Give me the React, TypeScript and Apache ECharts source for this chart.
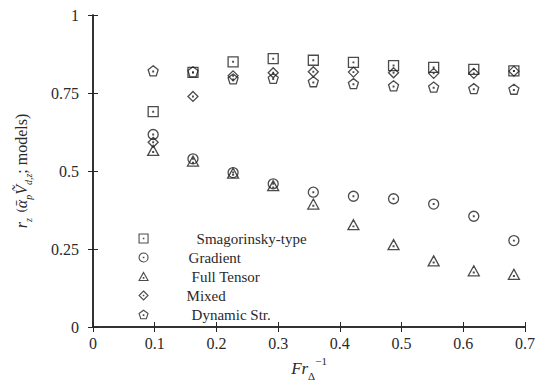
import React, { useEffect, useRef } from "react";
import * as echarts from "echarts";

const xVals = [0.0975, 0.162, 0.227, 0.292, 0.357, 0.422, 0.487, 0.552, 0.617, 0.682];
const smagorinsky = [0.69, 0.816, 0.85, 0.86, 0.855, 0.848, 0.838, 0.832, 0.826, 0.821];
const gradient = [0.617, 0.539, 0.495, 0.459, 0.432, 0.419, 0.411, 0.394, 0.355, 0.277];
const fullTensor = [0.566, 0.532, 0.493, 0.453, 0.394, 0.328, 0.264, 0.212, 0.18, 0.169];
const mixed = [0.592, 0.739, 0.805, 0.815, 0.818, 0.817, 0.815, 0.813, 0.813, 0.82];
const dynamicStr = [0.821, 0.818, 0.795, 0.797, 0.786, 0.78, 0.773, 0.769, 0.764, 0.762];
const seriesNames = ["Smagorinsky-type", "Gradient", "Full Tensor", "Mixed", "Dynamic Str."];
const legendOffsets = [43.5, 35.5, 38.5, 33.5, 38.5];

const DOT = "M4.7,4.7h0.6v0.6h-0.6Z";
const symbols = [
  "path://M0,0H10V10H0Z " + DOT,
  "path://M10,5A5,5 0 1,1 0,5A5,5 0 1,1 10,5Z " + DOT,
  "path://M5,0L10,9L0,9Z M4.7,5.7h0.6v0.6h-0.6Z",
  "path://M5,0L10,5L5,10L0,5Z " + DOT,
  "path://M5,0L9.755,3.455L7.939,9.045L2.061,9.045L0.245,3.455Z M4.7,4.8h0.6v0.6h-0.6Z",
];
const symbolSizes: number[][] = [[10, 10], [10, 10], [11, 10], [10, 10], [10, 10]];

const FONT = "'Liberation Serif', 'DejaVu Serif', serif";
const TXT = "#2a2a2a";

export default function App() {
  const ref = useRef<HTMLDivElement>(null);
  useEffect(() => {
    if (!ref.current) return;
    const chart = echarts.init(ref.current, undefined, { renderer: "svg" });
    const data = [smagorinsky, gradient, fullTensor, mixed, dynamicStr];
    const axisLine = { show: true, lineStyle: { color: "#262626", width: 1.5 } };
    const rich: any = {};
    legendOffsets.forEach((o, i) => {
      rich["a" + i] = { padding: [0, 0, 0, o], fontFamily: FONT, fontSize: 15, lineHeight: 13, color: TXT };
    });
    chart.setOption({
      animation: false,
      backgroundColor: "#ffffff",
      textStyle: { fontFamily: FONT },
      grid: { left: 93, right: 27, top: 15, bottom: 65, containLabel: false },
      legend: {
        orient: "vertical",
        left: 138.5,
        top: 231,
        padding: 0,
        itemWidth: 9,
        itemHeight: 9,
        itemGap: 4,
        data: seriesNames.map((name, i) => ({ name, icon: symbols[i] })),
        itemStyle: { color: "rgba(255,255,255,0)", borderColor: "#1e1e1e", borderWidth: 1.1 },
        formatter: (name: string) => {
          const i = seriesNames.indexOf(name);
          return "{a" + i + "|" + name + "}";
        },
        textStyle: { fontFamily: FONT, fontSize: 15, color: TXT, lineHeight: 13, rich },
      },
      xAxis: [
        {
          type: "value",
          min: 0,
          max: 0.7,
          interval: 0.1,
          position: "bottom",
          axisLine,
          splitLine: { show: false },
          axisTick: { show: true, inside: true, length: 5, lineStyle: { color: "#262626" } },
          axisLabel: { fontFamily: FONT, fontSize: 16, color: TXT, margin: 8 },
          name: "{i|Fr}{sub|Δ}{sup|−1}",
          nameLocation: "middle",
          nameGap: 28,
          nameTextStyle: {
            fontFamily: FONT,
            color: TXT,
            rich: {
              i: { fontFamily: FONT, fontStyle: "italic", fontSize: 17, lineHeight: 26, color: TXT },
              sub: { fontFamily: FONT, fontSize: 11, lineHeight: 12, verticalAlign: "bottom", color: TXT },
              sup: { fontFamily: FONT, fontSize: 11, lineHeight: 12, verticalAlign: "top", color: TXT },
            },
          },
        },
        {
          type: "value",
          min: 0,
          max: 0.7,
          interval: 0.1,
          position: "top",
          axisLine,
          splitLine: { show: false },
          axisTick: { show: true, inside: true, length: 5, lineStyle: { color: "#262626" } },
          axisLabel: { show: false },
        },
      ],
      yAxis: [
        {
          type: "value",
          min: 0,
          max: 1,
          interval: 0.25,
          position: "left",
          axisLine,
          splitLine: { show: false },
          axisTick: { show: true, inside: true, length: 5, lineStyle: { color: "#262626" } },
          axisLabel: { fontFamily: FONT, fontSize: 16, color: TXT, margin: 14 },
          name: "{i|r}{s|z}  ({i|ᾱ}{s|p}{i|Ṽ}{s|d,z}{n|; models)}",
          nameLocation: "middle",
          nameGap: 60,
          nameTextStyle: {
            fontFamily: FONT,
            color: TXT,
            rich: {
              i: { fontFamily: FONT, fontStyle: "italic", fontSize: 16, lineHeight: 24, color: TXT },
              s: { fontFamily: FONT, fontStyle: "italic", fontSize: 10, lineHeight: 12, verticalAlign: "bottom", color: TXT },
              n: { fontFamily: FONT, fontSize: 16, lineHeight: 24, color: TXT },
            },
          },
        },
        {
          type: "value",
          min: 0,
          max: 1,
          interval: 0.25,
          position: "right",
          axisLine,
          splitLine: { show: false },
          axisTick: { show: true, inside: true, length: 5, lineStyle: { color: "#262626" } },
          axisLabel: { show: false },
        },
      ],
      series: seriesNames.map((name, k) => ({
        name,
        type: "scatter",
        xAxisIndex: 0,
        yAxisIndex: 0,
        symbol: symbols[k],
        symbolSize: symbolSizes[k],
        itemStyle: { color: "rgba(255,255,255,0)", borderColor: "#1e1e1e", borderWidth: 1.3 },
        data: xVals.map((x, i) => [x, data[k][i]]),
      })),
    });
    return () => chart.dispose();
  }, []);
  return (
    <div
      ref={ref}
      style={{ position: "fixed", left: 0, top: 0, width: 552, height: 392, background: "#fff" }}
    />
  );
}
